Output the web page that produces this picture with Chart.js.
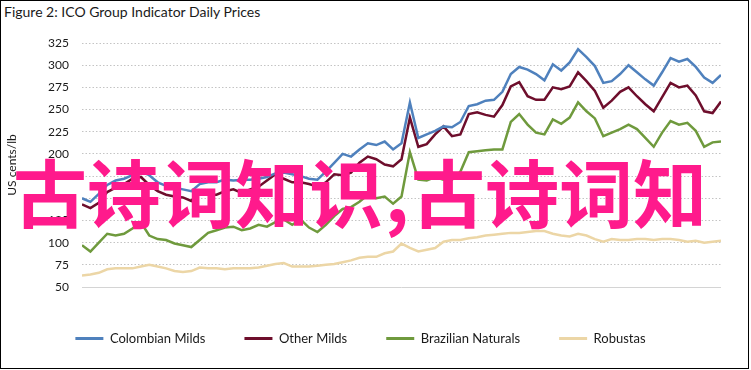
<!DOCTYPE html>
<html>
<head>
<meta charset="utf-8">
<script src="https://cdn.jsdelivr.net/npm/chart.js@4"></script>
<style>
  body { margin: 0; background: #fff; }
  #wrap { position: relative; width: 751px; height: 370px; overflow: hidden; }
  #frame { position: absolute; left: 0; top: 0; width: 747px; height: 367px; border: 1px solid #000; }
  #title { position: absolute; left: 4px; top: 3px; font: 14px Lato, sans-serif; color: #1a1a1a; background: #fff; padding-right: 2px; }
  #chart { position: absolute; left: 0; top: 0; }
  #mark { position: absolute; left: 13px; top: 153px; font: 700 74px "Noto Sans CJK SC", sans-serif; line-height: 74px; color: #ff1a8c; white-space: nowrap; pointer-events: none; }
  #mark span { margin: 0 2px; }
</style>
</head>
<body>
<div id="wrap">
  <div id="frame"></div>
  <div id="title">Figure 2: ICO Group Indicator Daily Prices</div>
  <canvas id="chart" width="744" height="370"></canvas>
  <div id="mark">古诗词知识<span>,</span>古诗词知</div>
</div>
<script>
// sample dates (every 10 days)
const dates = [
  "2020-07-01","2020-07-11","2020-07-21","2020-07-31","2020-08-10","2020-08-20","2020-08-30","2020-09-09",
  "2020-09-19","2020-09-29","2020-10-09","2020-10-19","2020-10-29","2020-11-08","2020-11-18","2020-11-28",
  "2020-12-08","2020-12-18","2020-12-28","2021-01-07","2021-01-17","2021-01-27","2021-02-06","2021-02-16",
  "2021-02-26","2021-03-08","2021-03-18","2021-03-28","2021-04-07","2021-04-17","2021-04-27","2021-05-07",
  "2021-05-17","2021-05-27","2021-06-06","2021-06-16","2021-06-26","2021-07-06","2021-07-16","2021-07-26",
  "2021-08-05","2021-08-15","2021-08-25","2021-09-04","2021-09-14","2021-09-24","2021-10-04","2021-10-14",
  "2021-10-24","2021-11-03","2021-11-13","2021-11-23","2021-12-03","2021-12-13","2021-12-23","2022-01-02",
  "2022-01-12","2022-01-22","2022-02-01","2022-02-11","2022-02-21","2022-03-03","2022-03-13","2022-03-23",
  "2022-04-02","2022-04-12","2022-04-22","2022-05-02","2022-05-12","2022-05-22","2022-06-01","2022-06-11",
  "2022-06-21","2022-07-01","2022-07-11","2022-07-21","2022-07-31"
];

const colombianMilds = [
  150,146,155,165,170,172,176,180,176,168,164,162,160,158,166,168,
  168,171,170,171,171,172,174,178,179,177,175,172,171,180,190,200,
  197,205,212,210,214,205,212,258,218,222,226,231,230,236,254,256,
  260,261,270,290,298,295,290,283,301,294,303,318,309,299,280,282,
  290,300,292,284,277,292,308,304,307,298,286,280,289
];
const otherMilds = [
  143,139,145,157,162,166,172,174,165,158,154,152,151,147,156,154,
  154,158,160,156,160,163,170,177,172,168,168,166,163,168,177,176,
  179,190,197,194,188,186,194,241,208,211,222,231,220,222,245,247,
  244,242,255,276,281,265,261,261,275,273,276,292,282,271,252,260,
  270,275,265,256,248,264,280,275,277,266,248,246,259
];
const brazilianNaturals = [
  97,90,100,110,108,110,116,123,108,104,103,99,97,95,103,111,
  114,117,118,114,116,120,118,123,126,120,126,117,112,120,130,138,
  140,146,154,150,152,144,152,202,171,170,174,171,171,180,202,203,
  204,205,205,236,245,233,224,222,239,234,241,258,248,240,220,224,
  228,233,228,218,208,224,237,233,235,226,208,213,214
];
const robustas = [
  63,64,66,70,71,71,71,73,75,73,71,68,67,68,72,71,
  71,70,71,71,71,72,74,76,77,73,73,73,74,75,76,78,
  80,83,84,84,88,90,99,94,90,92,94,101,103,103,105,106,
  108,109,110,111,111,112,113,113,110,108,107,110,108,104,101,104,
  103,103,104,104,103,104,104,103,101,102,100,101,102
];

const tickDates = ["2020-07-01","2020-10-01","2021-01-01","2021-04-01","2021-07-01","2021-10-01","2022-01-01","2022-04-01","2022-07-01"];
const tickLabels = ["Jul-20","Oct-20","Jan-21","Apr-21","Jul-21","Oct-21","Jan-22","Apr-22","Jul-22"];

const start = Date.parse(dates[0]);
function dayOf(s) {
  return Math.round((Date.parse(s) - start) / 86400000);
}
function points(values) {
  return values.map((v, i) => ({ x: dayOf(dates[i]), y: v }));
}
const tickDays = tickDates.map(dayOf);

function series(label, values, color) {
  return {
    label: label,
    data: points(values),
    borderColor: color,
    backgroundColor: color,
    borderWidth: 2.5,
    pointRadius: 0,
    tension: 0,
    fill: false
  };
}

const font = "Lato, sans-serif";

new Chart(document.getElementById("chart"), {
  type: "line",
  data: {
    datasets: [
      series("Colombian Milds", colombianMilds, "#4f81bd"),
      series("Other Milds", otherMilds, "#6e0e2c"),
      series("Brazilian Naturals", brazilianNaturals, "#6f9a3d"),
      series("Robustas", robustas, "#ecd6a6")
    ]
  },
  options: {
    responsive: false,
    animation: false,
    devicePixelRatio: 1,
    layout: { padding: { left: 0, right: 23, top: 43, bottom: 15 } },
    scales: {
      x: {
        type: "linear",
        min: 0,
        max: 760,
        afterBuildTicks: (scale) => { scale.ticks = tickDays.map(v => ({ value: v })); },
        afterFit: (scale) => { scale.height = 6; },
        grid: { display: false },
        border: { display: false },
        ticks: {
          padding: 11,
          maxRotation: 0,
          autoSkip: false,
          color: "#1a1a1a",
          font: { family: font, size: 12 },
          callback: (v) => tickLabels[tickDays.indexOf(v)]
        }
      },
      y: {
        min: 50,
        max: 325,
        afterFit: (scale) => { scale.width = 82; },
        ticks: { stepSize: 25, padding: 13, color: "#1a1a1a", font: { family: font, size: 12 } },
        grid: {
          drawTicks: false,
          color: (ctx) => ctx.tick && ctx.tick.value === 50 ? "#d4d4d4" : "#c4c4c4"
        },
        border: {
          display: false,
          dash: (ctx) => ctx.tick && ctx.tick.value === 50 ? [] : [1.5, 2]
        },
        title: {
          display: true,
          text: "US cents/lb",
          color: "#1a1a1a",
          font: { family: font, size: 12 },
          padding: { top: 5, bottom: 0 }
        }
      }
    },
    plugins: {
      tooltip: { enabled: false },
      legend: {
        position: "bottom",
        labels: {
          boxWidth: 28,
          boxHeight: 3,
          padding: 39,
          color: "#1a1a1a",
          font: { family: font, size: 13 },
          generateLabels: (chart) =>
            Chart.defaults.plugins.legend.labels.generateLabels(chart).map(l => ({ ...l, lineWidth: 0 }))
        }
      }
    }
  }
});
</script>
</body>
</html>
